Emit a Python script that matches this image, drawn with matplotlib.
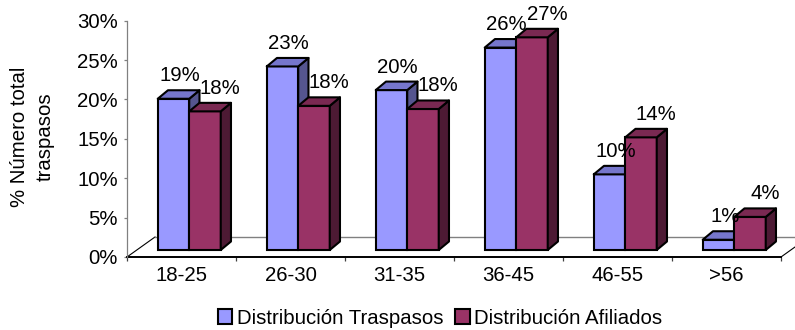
import matplotlib
matplotlib.use("Agg")
import matplotlib.pyplot as plt
from matplotlib.patches import Polygon, Patch
from matplotlib.ticker import FixedLocator, PercentFormatter

plt.rcParams['font.family'] = ['Liberation Sans', 'DejaVu Sans']

# ---- data -------------------------------------------------------------
categories = ["18-25", "26-30", "31-35", "36-45", "46-55", ">56"]
traspasos = [19.2, 23.3, 20.3, 25.7, 9.6, 1.3]     # % Distribución Traspasos
afiliados = [17.6, 18.3, 17.9, 27.0, 14.3, 4.2]    # % Distribución Afiliados
series_names = ["Distribución Traspasos", "Distribución Afiliados"]
y_ticks = [0, 5, 10, 15, 20, 25, 30]

# ---- style ------------------------------------------------------------
FS = 14.7
face_cols = ["#9999FF", "#993366"]
top_cols = ["#7676CC", "#7A2952"]
side_cols = ["#55558F", "#4D1A34"]

# pseudo-3D geometry (data units: categories on x, percent on y)
BAR_W = 0.289          # width of one bar
SHIFT_X, SHIFT_Y = 0.071, 0.89     # bars sit inside the floor
DEPTH_X, DEPTH_Y = 0.094, 1.08     # depth of each bar
FLOOR_DX, FLOOR_DY = 0.257, 2.54   # depth of the floor

fig = plt.figure(figsize=(7.95, 3.30), dpi=100)
ax = fig.add_axes([127 / 795, 73 / 330, 654 / 795, 236.3 / 330])
ax.set_xlim(-0.5, len(categories) - 0.5)
ax.set_ylim(0, 30)

# floor outline
x0f, x1f = -0.5, len(categories) - 0.5
ax.plot([x0f, x0f + FLOOR_DX], [0, FLOOR_DY], color="black", lw=0.8,
        clip_on=False, zorder=1)
ax.plot([x0f + FLOOR_DX, x1f + FLOOR_DX], [FLOOR_DY, FLOOR_DY],
        color="#808080", lw=1.0, clip_on=False, zorder=1)
ax.plot([x1f, x1f + FLOOR_DX], [0, FLOOR_DY], color="black", lw=0.8,
        clip_on=False, zorder=1)


def draw_box(xc, v, k, z):
    xl, xr = xc - BAR_W / 2, xc + BAR_W / 2
    base = SHIFT_Y
    top = base + v
    ax.bar(xc, v, width=BAR_W, bottom=base, color=face_cols[k],
           edgecolor="black", linewidth=1.5, zorder=z)
    top_poly = Polygon([(xl, top), (xr, top), (xr + DEPTH_X, top + DEPTH_Y),
                        (xl + DEPTH_X, top + DEPTH_Y)], closed=True,
                       facecolor=top_cols[k], edgecolor="black",
                       linewidth=1.5, zorder=z, joinstyle="round")
    side_poly = Polygon([(xr, base), (xr, top), (xr + DEPTH_X, top + DEPTH_Y),
                         (xr + DEPTH_X, base + DEPTH_Y)], closed=True,
                        facecolor=side_cols[k], edgecolor="black",
                        linewidth=1.5, zorder=z, joinstyle="round")
    ax.add_patch(side_poly)
    ax.add_patch(top_poly)


label_dx = [-4, 5]   # pixel nudges for the value labels
z = 3
for i, cat in enumerate(categories):
    for k, vals in enumerate([traspasos, afiliados]):
        xc = i + SHIFT_X + (k - 0.5) * BAR_W
        v = vals[i]
        draw_box(xc, v, k, z)
        z += 1
for i, cat in enumerate(categories):
    for k, vals in enumerate([traspasos, afiliados]):
        xc = i + SHIFT_X + (k - 0.5) * BAR_W
        v = vals[i]
        ax.annotate(f"{v:.0f}%", xy=(xc + DEPTH_X, v + SHIFT_Y + DEPTH_Y),
                    xytext=(label_dx[k], 9), textcoords="offset pixels",
                    ha="center", va="baseline", fontsize=FS, zorder=50,
                    annotation_clip=False)

# axes styling
for s in ["top", "right"]:
    ax.spines[s].set_visible(False)
ax.spines["left"].set_color("#808080")
ax.spines["left"].set_linewidth(0.9)
ax.spines["bottom"].set_color("black")
ax.spines["bottom"].set_linewidth(1.4)
ax.spines["bottom"].set_zorder(2)

ax.yaxis.set_major_locator(FixedLocator(y_ticks))
ax.yaxis.set_major_formatter(PercentFormatter(decimals=0))
ax.tick_params(axis="y", direction="out", length=2.5, width=0.9,
               color="#808080", pad=4, labelsize=FS)

ax.set_xticks(range(len(categories)))
ax.set_xticklabels(categories)
ax.set_xticks([i - 0.5 for i in range(len(categories) + 1)], minor=True)
ax.tick_params(axis="x", which="major", length=0, pad=6.5, labelsize=FS)
ax.tick_params(axis="x", which="minor", direction="out", length=3,
               width=0.9, color="#404040")

fig.text(32 / 795, 1 - 137 / 330, "% Número total\ntraspasos",
         rotation=90, ha="center", va="center", fontsize=FS,
         multialignment="center", linespacing=1.45)

handles = [Patch(facecolor=face_cols[k], edgecolor="black", linewidth=1.5,
                 label=series_names[k]) for k in range(2)]
fig.legend(handles=handles, loc="center", bbox_to_anchor=(440 / 795, 1 - 318 / 330),
           ncol=2, frameon=False, fontsize=FS, handlelength=0.72,
           handleheight=0.72, handletextpad=0.2, columnspacing=0.6,
           borderpad=0, borderaxespad=0)

fig.savefig("out.png", dpi=100)
